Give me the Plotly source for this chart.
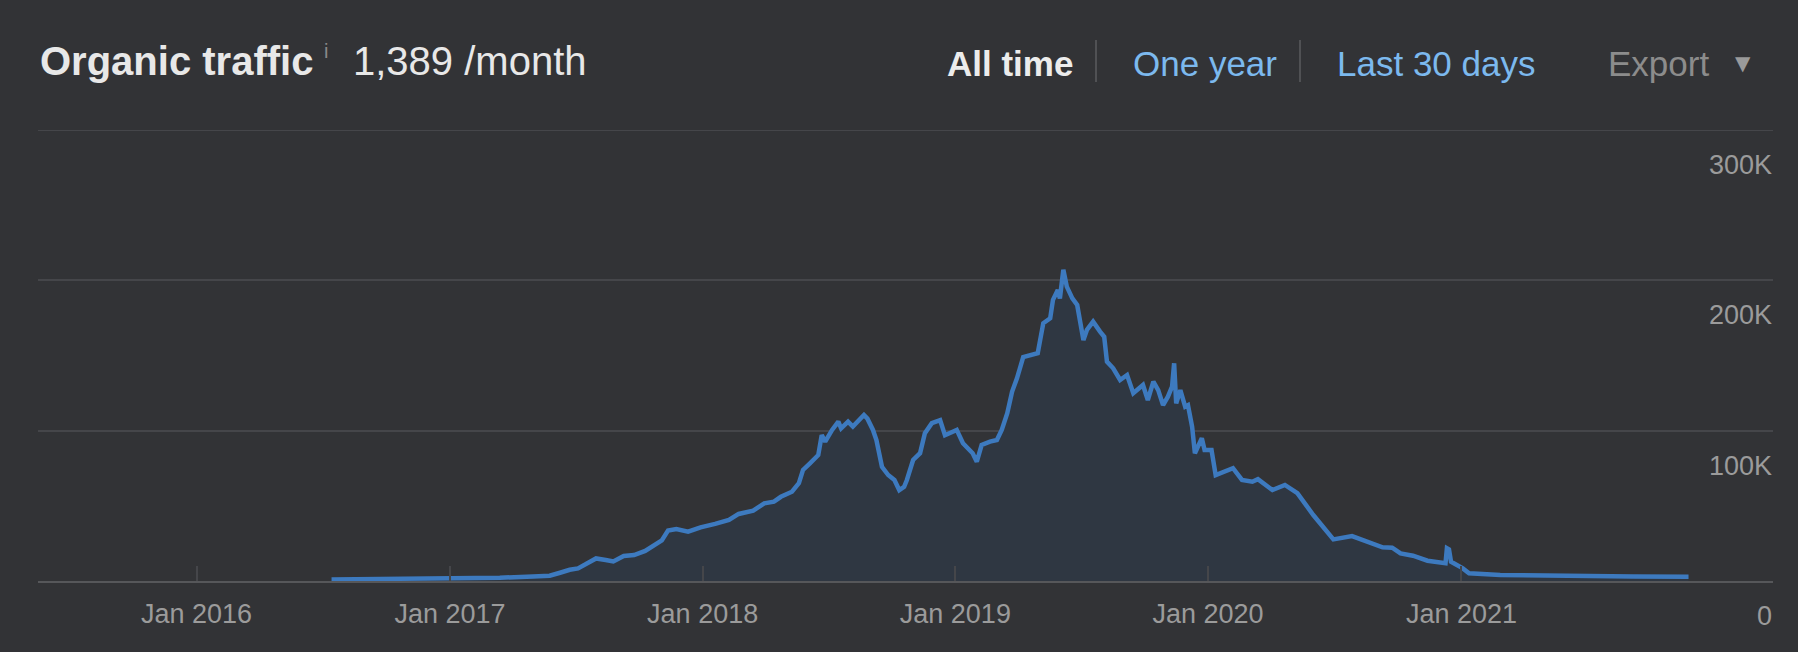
import plotly.graph_objects as go

# ---------------- data ----------------
dates = [
    "2016-07-14", "2016-10-20", "2017-01-01", "2017-03-14", "2017-05-01", "2017-05-25",
    "2017-06-09", "2017-06-23", "2017-07-05", "2017-07-22", "2017-07-31", "2017-08-14",
    "2017-08-25", "2017-09-09", "2017-09-24", "2017-10-10", "2017-10-24", "2017-11-03",
    "2017-11-12", "2017-11-24", "2017-12-11", "2017-12-29", "2018-01-19", "2018-02-08",
    "2018-02-22", "2018-03-15", "2018-03-31", "2018-04-14", "2018-04-24", "2018-05-10",
    "2018-05-20", "2018-05-26", "2018-06-05", "2018-06-17", "2018-06-22", "2018-06-27",
    "2018-07-07", "2018-07-16", "2018-07-20", "2018-07-30", "2018-08-06", "2018-08-15",
    "2018-08-22", "2018-08-27", "2018-09-04", "2018-09-09", "2018-09-17", "2018-09-26",
    "2018-10-05", "2018-10-12", "2018-10-19", "2018-10-23", "2018-11-01", "2018-11-11",
    "2018-11-18", "2018-11-28", "2018-12-10", "2018-12-17", "2019-01-03", "2019-01-12",
    "2019-01-26", "2019-02-01", "2019-02-08", "2019-02-20", "2019-03-02", "2019-03-09",
    "2019-03-17", "2019-03-24", "2019-03-31", "2019-04-09", "2019-04-23", "2019-04-30",
    "2019-05-08", "2019-05-18", "2019-05-22", "2019-05-29", "2019-06-01", "2019-06-06",
    "2019-06-11", "2019-06-19", "2019-06-26", "2019-06-30", "2019-07-05", "2019-07-10",
    "2019-07-19", "2019-07-29", "2019-08-04", "2019-08-08", "2019-08-17", "2019-08-27",
    "2019-09-06", "2019-09-15", "2019-09-29", "2019-10-06", "2019-10-14", "2019-10-21",
    "2019-10-28", "2019-11-04", "2019-11-10", "2019-11-13", "2019-11-16", "2019-11-22",
    "2019-11-29", "2019-12-03", "2019-12-09", "2019-12-13", "2019-12-23", "2019-12-27",
    "2020-01-06", "2020-01-12", "2020-01-28", "2020-02-06", "2020-02-19", "2020-03-05",
    "2020-03-13", "2020-04-03", "2020-04-21", "2020-05-09", "2020-06-01", "2020-06-15",
    "2020-06-30", "2020-07-27", "2020-08-18", "2020-09-09", "2020-09-23", "2020-10-05",
    "2020-10-23", "2020-11-13", "2020-12-09", "2020-12-11", "2020-12-14", "2020-12-17",
    "2021-01-03", "2021-01-12", "2021-02-26", "2021-06-03", "2021-09-06", "2021-11-25",
]
traffic = [
    1000, 1200, 1500, 2200, 3000, 3500,
    5500, 7500, 8400, 12500, 15000, 14000,
    13000, 16600, 17300, 20000, 24000, 27000,
    33500, 34600, 32800, 35700, 38000, 40600,
    44600, 46800, 51700, 52800, 56000, 59400,
    65000, 73900, 78300, 83800, 97000, 92700,
    100500, 106000, 101600, 106000, 102700, 107600,
    110400, 108000, 100500, 93800, 76000, 70500,
    67200, 60500, 62700, 67200, 80500, 85000,
    98300, 105000, 107000, 97000, 100500, 91600,
    85000, 79400, 90500, 92700, 93800, 100500,
    111600, 126000, 134800, 149000, 150400, 151500,
    171500, 174800, 187000, 193600, 188000, 207000,
    195800, 188000, 183600, 173700, 160300, 167000,
    172500, 165900, 162500, 145900, 141500, 133700,
    137000, 124900, 130400, 120400, 132600, 127000,
    117000, 122600, 129300, 144800, 118200, 127000,
    116000, 117000, 102600, 85000, 95000, 87200,
    87200, 70500, 73900, 75000, 67200, 66000,
    67700, 60500, 63900, 58400, 43900, 36100,
    27700, 29900, 26100, 22400, 22200, 18400,
    16800, 13500, 11800, 21800, 21000, 12800,
    8400, 5100, 4000, 3300, 3000, 2800,
]

x_tick_dates = ["2016-01-01", "2017-01-01", "2018-01-01", "2019-01-01", "2020-01-01", "2021-01-01"]
x_tick_labels = ["Jan 2016", "Jan 2017", "Jan 2018", "Jan 2019", "Jan 2020", "Jan 2021"]
y_tick_values = [0, 100000, 200000, 300000]
y_tick_labels = ["0", "100K", "200K", "300K"]

title_text = "Organic traffic"
value_text = "1,389 /month"
buttons = ["All time", "One year", "Last 30 days", "Export"]

# ---------------- style ----------------
W, H = 1798, 652
ML, MR, MT, MB = 38, 25, 130, 71
PW, PH = W - ML - MR, H - MT - MB
BG = "#323336"
GRID = "#45464a"
FONT = "Liberation Sans, Arial, Helvetica, sans-serif"


def px(xp):
    return (xp - ML) / PW


def py(yp):
    return (H - MB - yp) / PH


fig = go.Figure()
fig.add_trace(go.Scatter(
    x=dates, y=traffic, mode="lines",
    line=dict(color="#3d7abf", width=4.5),
    fill="tozeroy", fillcolor="#2f3742",
    hoverinfo="skip",
))

annotations = []
# header
annotations.append(dict(text="<b>" + title_text + "</b>", x=px(38), y=py(61), xref="paper", yref="paper",
                        xanchor="left", yanchor="middle", showarrow=False,
                        font=dict(family=FONT, size=40, color="#e8e8e8")))
annotations.append(dict(text="i", x=px(326), y=py(51), xref="paper", yref="paper",
                        xanchor="center", yanchor="middle", showarrow=False,
                        font=dict(family=FONT, size=20, color="#8a8a8a")))
annotations.append(dict(text=value_text, x=px(351), y=py(61), xref="paper", yref="paper",
                        xanchor="left", yanchor="middle", showarrow=False,
                        font=dict(family=FONT, size=40, color="#e8e8e8")))
btn_x = [945, 1131, 1335, 1606]
btn_col = ["#ececec", "#7cb9ee", "#7cb9ee", "#8c8c8c"]
for i, (b, bx, bc) in enumerate(zip(buttons, btn_x, btn_col)):
    annotations.append(dict(text=("<b>" + b + "</b>") if i == 0 else b, x=px(bx), y=py(63),
                            xref="paper", yref="paper", xanchor="left", yanchor="middle",
                            showarrow=False, font=dict(family=FONT, size=35, color=bc)))
annotations.append(dict(text="▼", x=px(1743), y=py(63), xref="paper", yref="paper",
                        xanchor="center", yanchor="middle", showarrow=False,
                        font=dict(family="DejaVu Sans", size=20, color="#9a9a9a")))
# y tick labels (below gridlines, right-aligned)
for v, t in zip(y_tick_values, y_tick_labels):
    annotations.append(dict(text=t, x=1.0, y=v, xref="paper", yref="y",
                            xanchor="right", yanchor="middle", yshift=-35, xshift=1,
                            showarrow=False, font=dict(family=FONT, size=27, color="#9b9b9b")))

shapes = []
for sx in (1096, 1300):
    shapes.append(dict(type="line", xref="paper", yref="paper", x0=px(sx), x1=px(sx),
                       y0=py(40), y1=py(82), line=dict(color="#505154", width=2)))
# top gridline (at the upper end of the y range)
shapes.append(dict(type="line", xref="paper", yref="y", x0=0, x1=1,
                   y0=max(y_tick_values), y1=max(y_tick_values),
                   line=dict(color=GRID, width=2), layer="below"))

fig.update_layout(
    width=W, height=H,
    margin=dict(l=ML, r=MR, t=MT, b=MB, pad=0),
    paper_bgcolor=BG, plot_bgcolor=BG,
    showlegend=False,
    annotations=annotations,
    shapes=shapes,
    xaxis=dict(
        type="date",
        range=["2015-05-17", "2022-03-27"],
        tickvals=x_tick_dates, ticktext=x_tick_labels,
        ticks="inside", ticklen=15, tickwidth=2, tickcolor=GRID,
        showgrid=False, zeroline=False,
        showline=True, linecolor="#56575a", linewidth=2,
        tickfont=dict(family=FONT, size=27, color="#9b9b9b"),
        ticklabelstandoff=8,
        fixedrange=True,
    ),
    yaxis=dict(
        range=[0, 300000],
        tickvals=y_tick_values,
        showticklabels=False,
        showgrid=True, gridcolor=GRID, gridwidth=2,
        zeroline=False, showline=False, ticks="",
        fixedrange=True,
    ),
)

fig.write_html("out.html", config={"displayModeBar": False})
